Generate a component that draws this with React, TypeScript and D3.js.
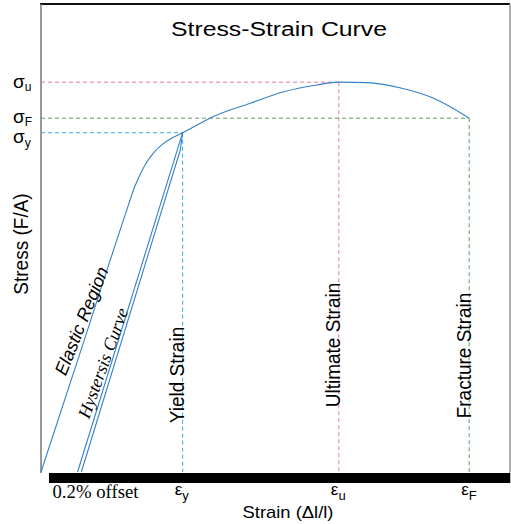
import React from "react";
import * as d3 from "d3";

// strain / stress in arbitrary % units (0-100 of the plot box)
const elasticCurve: [number, number][] = [
  [0, 0], [9, 27.5], [18, 55.1], [20, 61.0], [22, 65.3], [24, 68.2], [26, 70.1],
  [28, 71.4], [30.2, 72.5], [33, 74.0], [36.0, 75.6], [44.6, 78.8], [51.6, 81.2],
  [58.8, 82.7], [63.5, 83.3], [69.5, 83.2], [76.5, 82.1], [83.6, 79.9], [91.3, 75.6],
];
const unloadPath: [number, number][] = [[30.2, 72.5], [7.8, 0]];
const reloadPath: [number, number][] = [[8.6, 0], [29.7, 68.8], [30.2, 72.5]];

const strainLevels = [30.2, 63.5, 91.3]; // yield, ultimate, fracture
const stressLevels = [72.5, 83.3, 75.6]; // yield, ultimate, fracture
const levelColors = ["#2eaee0", "#e877a8", "#5aa35a"];
const subs = ["y", "u", "F"];
const strainNames = ["Yield Strain", "Ultimate Strain", "Fracture Strain"];
const sigmaShift = [10.5, 5.5, 4.5];

const W = 511;
const H = 524;

export default function App() {
  const x = d3.scaleLinear().domain([0, 100]).range([41, 510]);
  const y = d3.scaleLinear().domain([0, 100]).range([472, 4]);

  const curve = d3
    .line<[number, number]>()
    .x((d) => x(d[0]))
    .y((d) => y(d[1]))
    .curve(d3.curveMonotoneX);
  const straight = d3
    .line<[number, number]>()
    .x((d) => x(d[0]))
    .y((d) => y(d[1]));

  const sans = "Liberation Sans, Arial, sans-serif";
  const serif = "Liberation Serif, Times New Roman, serif";

  return (
    <svg width={W} height={H} style={{ position: "absolute", left: 0, top: 0, background: "#fff" }}>
      {/* frame */}
      <line x1={x(0) - 1} x2={x(100)} y1={4} y2={4} stroke="#111" strokeWidth={1.8} />
      <line x1={x(100)} x2={x(100)} y1={4} y2={483} stroke="#999" strokeWidth={1.5} />
      <line x1={x(0)} x2={x(0)} y1={4} y2={y(0) + 1} stroke="#777" strokeWidth={1.5} />
      <rect x={x(0) + 8} y={y(0) + 1} width={x(100) - x(0) - 8} height={10} fill="#000" />

      <text x={279} y={35.5} textAnchor="middle" fontFamily={sans} fontSize={20} textLength={216} lengthAdjust="spacingAndGlyphs">
        Stress-Strain Curve
      </text>

      {/* guide lines */}
      {strainLevels.map((s, i) => (
        <g key={i} stroke={levelColors[i]} strokeWidth={1} strokeDasharray="4,3" fill="none">
          <line x1={x(0)} x2={x(s)} y1={y(stressLevels[i])} y2={y(stressLevels[i])} />
          <line x1={x(s)} x2={x(s)} y1={y(stressLevels[i])} y2={y(0)} />
        </g>
      ))}

      {/* curves */}
      <path d={curve(elasticCurve) || ""} fill="none" stroke="#3481c8" strokeWidth={1.1} />
      <path d={straight(unloadPath) || ""} fill="none" stroke="#3481c8" strokeWidth={1.1} />
      <path d={straight(reloadPath) || ""} fill="none" stroke="#3481c8" strokeWidth={1.1} />

      {/* stress labels */}
      {stressLevels.map((v, i) => (
        <text key={i} x={13} y={y(v) + sigmaShift[i]} fontFamily={sans} fontSize={19}>
          σ
          <tspan fontSize={12} dy={3.5}>{subs[i]}</tspan>
        </text>
      ))}

      {/* strain labels */}
      {strainLevels.map((s, i) => (
        <text key={i} x={x(s) - 8} y={495} fontFamily={sans} fontSize={17}>
          ε
          <tspan fontSize={13} dy={5}>{subs[i]}</tspan>
        </text>
      ))}

      {/* vertical strain names */}
      {strainLevels.map((s, i) => (
        <text
          key={i}
          transform={`translate(${x(s) + 1.5},${[375, 345, 355.5][i]}) scale(1.1,1) rotate(-90)`}
          textAnchor="middle"
          fontFamily={sans}
          fontSize={19}
        >
          {strainNames[i]}
        </text>
      ))}

      <text
        transform={`translate(${x(8.6)},${y(32.3)}) rotate(-68)`}
        textAnchor="middle"
        dy="0.35em"
        fontFamily={sans}
        fontStyle="italic"
        fontSize={18}
      >
        Elastic Region
      </text>
      <text
        transform={`translate(${x(13.2)},${y(23.3)}) rotate(-70)`}
        textAnchor="middle"
        dy="0.35em"
        fontFamily={serif}
        fontStyle="italic"
        fontSize={18}
      >
        Hystersis Curve
      </text>

      <text x={52.5} y={498} fontFamily={serif} fontSize={18} textLength={86} lengthAdjust="spacingAndGlyphs">
        0.2% offset
      </text>

      <text x={288} y={518} textAnchor="middle" fontFamily={sans} fontSize={17} textLength={91} lengthAdjust="spacingAndGlyphs">
        Strain (Δl/l)
      </text>
      <text transform="translate(28,244) scale(1.1,1) rotate(-90)" textAnchor="middle" fontFamily={sans} fontSize={19}>
        Stress (F/A)
      </text>
    </svg>
  );
}
